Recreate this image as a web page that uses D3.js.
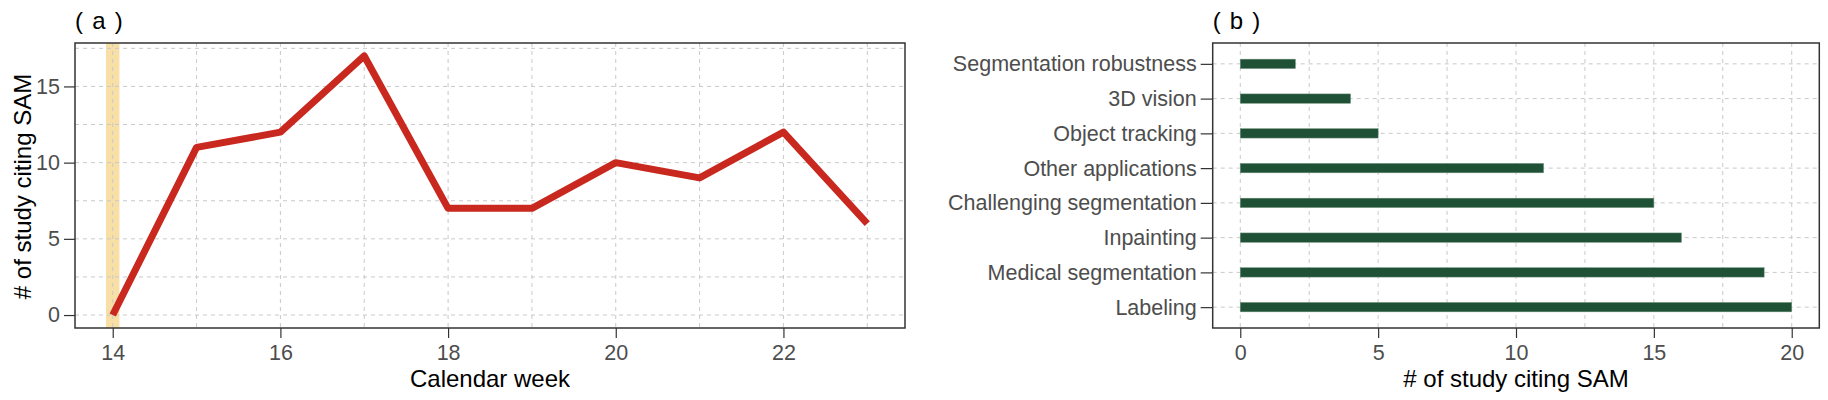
<!DOCTYPE html>
<html>
<head>
<meta charset="utf-8">
<script src="https://cdn.jsdelivr.net/npm/d3@7"></script>
<style>
  body { margin: 0; background: #fff; }
  text { font-family: "Liberation Sans", Arial, sans-serif; }
</style>
</head>
<body>
<script>
// Panel (a): studies citing SAM per calendar week
const weeks = [14, 15, 16, 17, 18, 19, 20, 21, 22, 23];
const studies = [0, 11, 12, 17, 7, 7, 10, 9, 12, 6];
const weekTicks = [14, 16, 18, 20, 22];
const studyTicks = [0, 5, 10, 15];
const highlightWeek = 14;

// Panel (b): studies citing SAM per topic (top to bottom)
const topics = [
  "Segmentation robustness",
  "3D vision",
  "Object tracking",
  "Other applications",
  "Challenging segmentation",
  "Inpainting",
  "Medical segmentation",
  "Labeling"
];
const topicCounts = [2, 4, 5, 11, 15, 16, 19, 20];
const countTicks = [0, 5, 10, 15, 20];

const width = 1828;
const height = 400;
const plotTop = 43, plotBottom = 328;
const panelA = { left: 75, right: 905 };
const panelB = { left: 1212.7, right: 1819.3 };

const gridColor = "#c9c9c9";
const tickTextColor = "#4d4d4d";
const lineColor = "#c8281e";
const barColor = "#1f5137";
const bandColor = "#f8dfa6";

const svg = d3.select("body")
  .append("svg")
  .attr("width", width)
  .attr("height", height);

// expand a numeric extent by 5% on each side, like ggplot does
function expand(ext) {
  const pad = (ext[1] - ext[0]) * 0.05;
  return [ext[0] - pad, ext[1] + pad];
}

function styleAxis(g) {
  g.select(".domain").remove();
  g.selectAll(".tick line").attr("stroke", "#333").attr("stroke-width", 1.2);
  g.selectAll(".tick text")
    .attr("fill", tickTextColor)
    .style("font-size", "21.5px");
}

// ---------- panel (a) ----------
const xA = d3.scaleLinear()
  .domain(expand(d3.extent(weeks)))
  .range([panelA.left, panelA.right]);
const yA = d3.scaleLinear()
  .domain(expand([0, d3.max(studies)]))
  .range([plotBottom, plotTop]);

const gA = svg.append("g");

// highlight band
gA.append("rect")
  .attr("x", xA(highlightWeek - 0.08))
  .attr("y", plotTop)
  .attr("width", xA(highlightWeek + 0.08) - xA(highlightWeek - 0.08))
  .attr("height", plotBottom - plotTop)
  .attr("fill", bandColor);

// grid (major + minor)
const gridWeeks = d3.range(weeks[0], weeks[weeks.length - 1] + 1, 1);
const gridStudies = d3.range(0, 18, 2.5);

gA.append("g").selectAll("line")
  .data(gridWeeks)
  .join("line")
  .attr("x1", d => xA(d)).attr("x2", d => xA(d))
  .attr("y1", plotTop).attr("y2", plotBottom)
  .attr("stroke", gridColor)
  .attr("stroke-dasharray", "4,4");

gA.append("g").selectAll("line")
  .data(gridStudies)
  .join("line")
  .attr("x1", panelA.left).attr("x2", panelA.right)
  .attr("y1", d => yA(d)).attr("y2", d => yA(d))
  .attr("stroke", gridColor)
  .attr("stroke-dasharray", "4,4");

// the line
const line = d3.line()
  .x((d, i) => xA(weeks[i]))
  .y(d => yA(d));

gA.append("path")
  .datum(studies)
  .attr("d", line)
  .attr("fill", "none")
  .attr("stroke", lineColor)
  .attr("stroke-width", 7)
  .attr("stroke-linejoin", "round")
  .attr("stroke-linecap", "butt");

// axes
gA.append("g")
  .attr("transform", `translate(0,${plotBottom})`)
  .call(d3.axisBottom(xA).tickValues(weekTicks).tickSize(10).tickPadding(7))
  .call(styleAxis);

gA.append("g")
  .attr("transform", `translate(${panelA.left},0)`)
  .call(d3.axisLeft(yA).tickValues(studyTicks).tickSize(11).tickPadding(4))
  .call(styleAxis);

// border
gA.append("rect")
  .attr("x", panelA.left).attr("y", plotTop)
  .attr("width", panelA.right - panelA.left)
  .attr("height", plotBottom - plotTop)
  .attr("fill", "none")
  .attr("stroke", "#333")
  .attr("stroke-width", 1.5);

gA.append("text")
  .attr("x", (panelA.left + panelA.right) / 2)
  .attr("y", 387)
  .attr("text-anchor", "middle")
  .style("font-size", "24px")
  .text("Calendar week");

gA.append("text")
  .attr("transform", `translate(31,${(plotTop + plotBottom) / 2 + 1}) rotate(-90)`)
  .attr("text-anchor", "middle")
  .style("font-size", "24px")
  .text("# of study citing SAM");

gA.append("text")
  .attr("x", panelA.left)
  .attr("y", 29)
  .style("font-size", "24px")
  .style("word-spacing", "2.5px")
  .text("( a )");

// ---------- panel (b) ----------
const xB = d3.scaleLinear()
  .domain(expand([0, d3.max(topicCounts)]))
  .range([panelB.left, panelB.right]);
const yB = d3.scalePoint()
  .domain(topics)
  .range([plotTop, plotBottom])
  .padding(0.6);

const gB = svg.append("g");

gB.append("g").selectAll("line")
  .data(d3.range(0, 21, 2.5))
  .join("line")
  .attr("x1", d => xB(d)).attr("x2", d => xB(d))
  .attr("y1", plotTop).attr("y2", plotBottom)
  .attr("stroke", gridColor)
  .attr("stroke-dasharray", "4,4");

gB.append("g").selectAll("line")
  .data(topics)
  .join("line")
  .attr("x1", panelB.left).attr("x2", panelB.right)
  .attr("y1", d => yB(d)).attr("y2", d => yB(d))
  .attr("stroke", gridColor)
  .attr("stroke-dasharray", "4,4");

const barH = yB.step() * 0.27;

gB.append("g").selectAll("rect")
  .data(topics)
  .join("rect")
  .attr("x", xB(0))
  .attr("y", d => yB(d) - barH / 2)
  .attr("width", (d, i) => xB(topicCounts[i]) - xB(0))
  .attr("height", barH)
  .attr("fill", barColor)
  .attr("stroke", "#6f8f7c")
  .attr("stroke-width", 0.5);

gB.append("g")
  .attr("transform", `translate(0,${plotBottom})`)
  .call(d3.axisBottom(xB).tickValues(countTicks).tickSize(10).tickPadding(7))
  .call(styleAxis);

gB.append("g")
  .attr("transform", `translate(${panelB.left},0)`)
  .call(d3.axisLeft(yB).tickSize(12).tickPadding(4))
  .call(styleAxis);

gB.append("rect")
  .attr("x", panelB.left).attr("y", plotTop)
  .attr("width", panelB.right - panelB.left)
  .attr("height", plotBottom - plotTop)
  .attr("fill", "none")
  .attr("stroke", "#333")
  .attr("stroke-width", 1.5);

gB.append("text")
  .attr("x", (panelB.left + panelB.right) / 2)
  .attr("y", 387)
  .attr("text-anchor", "middle")
  .style("font-size", "24px")
  .text("# of study citing SAM");

gB.append("text")
  .attr("x", panelB.left)
  .attr("y", 29)
  .style("font-size", "24px")
  .style("word-spacing", "2.5px")
  .text("( b )");
</script>
</body>
</html>
